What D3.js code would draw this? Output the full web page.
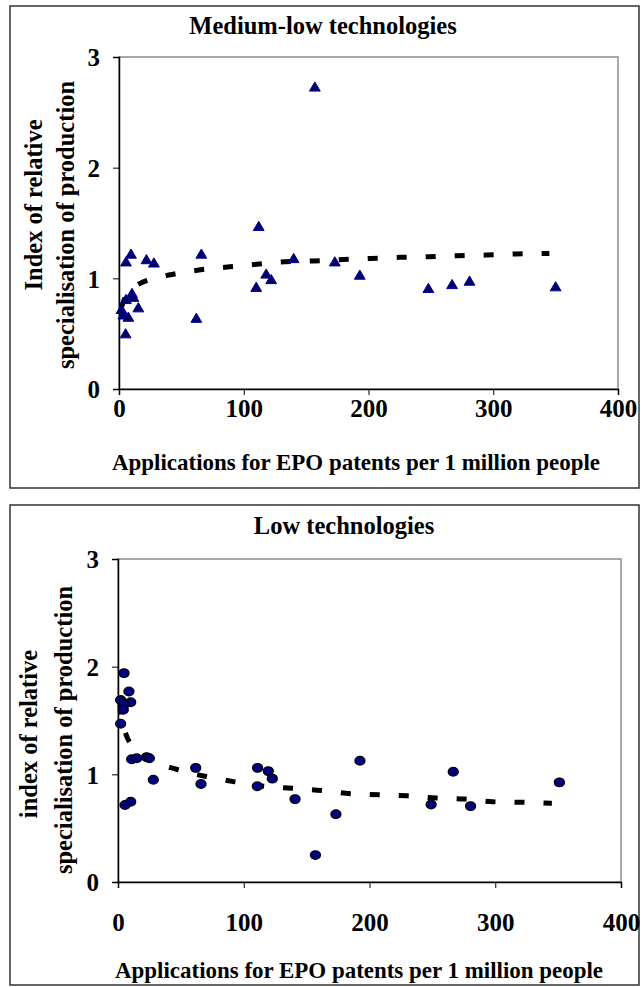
<!DOCTYPE html>
<html>
<head>
<meta charset="utf-8">
<script src="https://cdn.jsdelivr.net/npm/d3@7"></script>
<style>
  html, body { margin: 0; padding: 0; background: #fff; }
  svg text { font-family: "Liberation Serif", "Times New Roman", serif; font-weight: bold; fill: #000; }
</style>
</head>
<body>
<svg id="chart" width="642" height="987"></svg>
<script>
// ---- data ----
const xTicks = [0, 100, 200, 300, 400];
const yTicks = [0, 1, 2, 3];

const mlTitle = "Medium-low technologies";
const mlX = [2, 3.5, 5.3, 5.6, 5.6, 7.5, 9.6, 10.4, 11.5, 15.5, 22, 28, 62, 66, 110, 112, 118, 122, 140, 157, 173, 193, 248, 267, 281, 350];
const mlY = [0.72, 0.67, 0.50, 0.81, 1.15, 0.65, 1.22, 0.865, 0.83, 0.735, 1.17, 1.14, 0.64, 1.22, 0.92, 1.47, 1.04, 0.99, 1.18, 2.73, 1.15, 1.03, 0.91, 0.945, 0.976, 0.925];
const mlTrendX = [2, 5, 10, 17, 25, 40, 64, 100, 133, 156, 180, 202, 225, 248, 271, 294, 318, 345];
const mlTrendY = [0.74, 0.83, 0.90, 0.955, 0.99, 1.03, 1.075, 1.115, 1.15, 1.157, 1.17, 1.18, 1.19, 1.195, 1.205, 1.21, 1.22, 1.225];

const lowTitle = "Low technologies";
const lowX = [4.8, 8.7, 2.1, 10.1, 5, 4.2, 2.1, 10.9, 14.9, 22.8, 24.9, 28.1, 61.8, 66, 111, 119.5, 122.7, 110.8, 140.8, 10.1, 5.6, 192.4, 266.6, 351, 173.3, 249, 280.4, 157];
const lowY = [1.94, 1.77, 1.69, 1.67, 1.65, 1.60, 1.47, 1.14, 1.15, 1.16, 1.15, 0.95, 1.06, 0.91, 1.06, 1.03, 0.96, 0.89, 0.77, 0.745, 0.715, 1.126, 1.024, 0.925, 0.63, 0.72, 0.705, 0.25];
const lowTrendX = [1.5, 3, 5, 7.4, 12, 25, 47, 70, 93, 116, 139, 162, 185, 208, 230, 253, 276, 298, 322, 345];
const lowTrendY = [1.65, 1.52, 1.42, 1.34, 1.26, 1.14, 1.045, 0.98, 0.93, 0.89, 0.87, 0.85, 0.82, 0.81, 0.80, 0.78, 0.77, 0.745, 0.74, 0.73];

const xTitle = "Applications for EPO patents per 1 million people";

const svg = d3.select("#chart");

function drawPanel(cfg) {
  const g = svg.append("g");
  // outer frame
  g.append("rect").attr("x", cfg.box[0]).attr("y", cfg.box[1])
    .attr("width", cfg.box[2]).attr("height", cfg.box[3])
    .attr("fill", "#fff").attr("stroke", "#333").attr("stroke-width", 1.5);

  const x = d3.scaleLinear().domain([0, 400]).range([cfg.px0, cfg.px1]);
  const y = d3.scaleLinear().domain([0, 3]).range([cfg.py0, cfg.py3]);

  // plot area border (grey)
  g.append("rect").attr("x", cfg.px0).attr("y", cfg.py3)
    .attr("width", cfg.px1 - cfg.px0).attr("height", cfg.py0 - cfg.py3)
    .attr("fill", "#fff").attr("stroke", "#8c8c8c").attr("stroke-width", 1.5);

  // axes
  const ax = g.append("g").attr("transform", `translate(0,${cfg.py0})`)
    .call(d3.axisBottom(x).tickValues(xTicks).tickSize(6).tickFormat(d3.format("d")));
  ax.selectAll("text").attr("y", cfg.xLabOff).attr("dy", "0.35em").style("font-size", "25px");
  const ay = g.append("g").attr("transform", `translate(${cfg.px0},0)`)
    .call(d3.axisLeft(y).tickValues(yTicks).tickSize(6).tickPadding(13).tickFormat(d3.format("d")));
  ay.selectAll("text").attr("dy", "0.35em").style("font-size", "25px");
  g.selectAll(".domain").attr("stroke", "#000").attr("stroke-width", 1.5);
  g.selectAll(".tick line").attr("stroke", "#000").attr("stroke-width", 1);

  // trend line
  const pts = cfg.tx.map((v, i) => [v, cfg.ty[i]]);
  g.append("path").datum(pts)
    .attr("d", d3.line().x(d => x(d[0])).y(d => y(d[1])).curve(d3.curveMonotoneX))
    .attr("fill", "none").attr("stroke", "#000").attr("stroke-width", 5)
    .attr("stroke-dasharray", "10 19");

  // markers
  const data = cfg.dx.map((v, i) => [v, cfg.dy[i]]);
  if (cfg.marker === "tri") {
    g.selectAll(".m").data(data).enter().append("path")
      .attr("d", d => {
        const cx = x(d[0]), cy = y(d[1]);
        return `M${cx},${cy - 5}L${cx + 5.4},${cy + 4.2}L${cx - 5.4},${cy + 4.2}Z`;
      })
      .attr("fill", "#000066").attr("stroke", "#000099").attr("stroke-width", 1);
  } else {
    g.selectAll(".m").data(data).enter().append("ellipse")
      .attr("cx", d => x(d[0])).attr("cy", d => y(d[1]))
      .attr("rx", 5).attr("ry", 4.3)
      .attr("fill", "#000080").attr("stroke", "#000").attr("stroke-width", 1.3);
  }

  // title
  g.append("text").attr("x", cfg.titleX).attr("y", cfg.titleY)
    .attr("text-anchor", "middle").style("font-size", "24.5px").text(cfg.title);

  // x axis title
  g.append("text").attr("x", cfg.xtX).attr("y", cfg.xtY)
    .attr("text-anchor", "middle").style("font-size", "24px")
    .attr("textLength", 488).attr("lengthAdjust", "spacingAndGlyphs")
    .text(xTitle);

  // y axis title (two lines)
  cfg.yLines.forEach((t, i) => {
    g.append("text")
      .attr("transform", `translate(${cfg.ytX[i]},${cfg.ytY[i]}) rotate(-90)`)
      .attr("text-anchor", "middle").attr("dy", "0.35em")
      .style("font-size", "24.5px").text(t);
  });
}

drawPanel({
  box: [10, 6, 629, 482],
  px0: 119, px1: 618, py0: 389, py3: 57,
  xLabOff: 19,
  dx: mlX, dy: mlY, tx: mlTrendX, ty: mlTrendY, marker: "tri",
  title: mlTitle, titleX: 323, titleY: 34,
  xtX: 356, xtY: 470,
  yLines: ["Index of relative", "specialisation of production"],
  ytX: [33, 65], ytY: [205, 225]
});

drawPanel({
  box: [10, 505, 629, 480],
  px0: 118, px1: 621, py0: 882, py3: 559,
  xLabOff: 40,
  dx: lowX, dy: lowY, tx: lowTrendX, ty: lowTrendY, marker: "circ",
  title: lowTitle, titleX: 344, titleY: 534,
  xtX: 359, xtY: 978,
  yLines: ["index of relative", "specialisation of production"],
  ytX: [28, 63], ytY: [734, 730]
});
</script>
</body>
</html>
